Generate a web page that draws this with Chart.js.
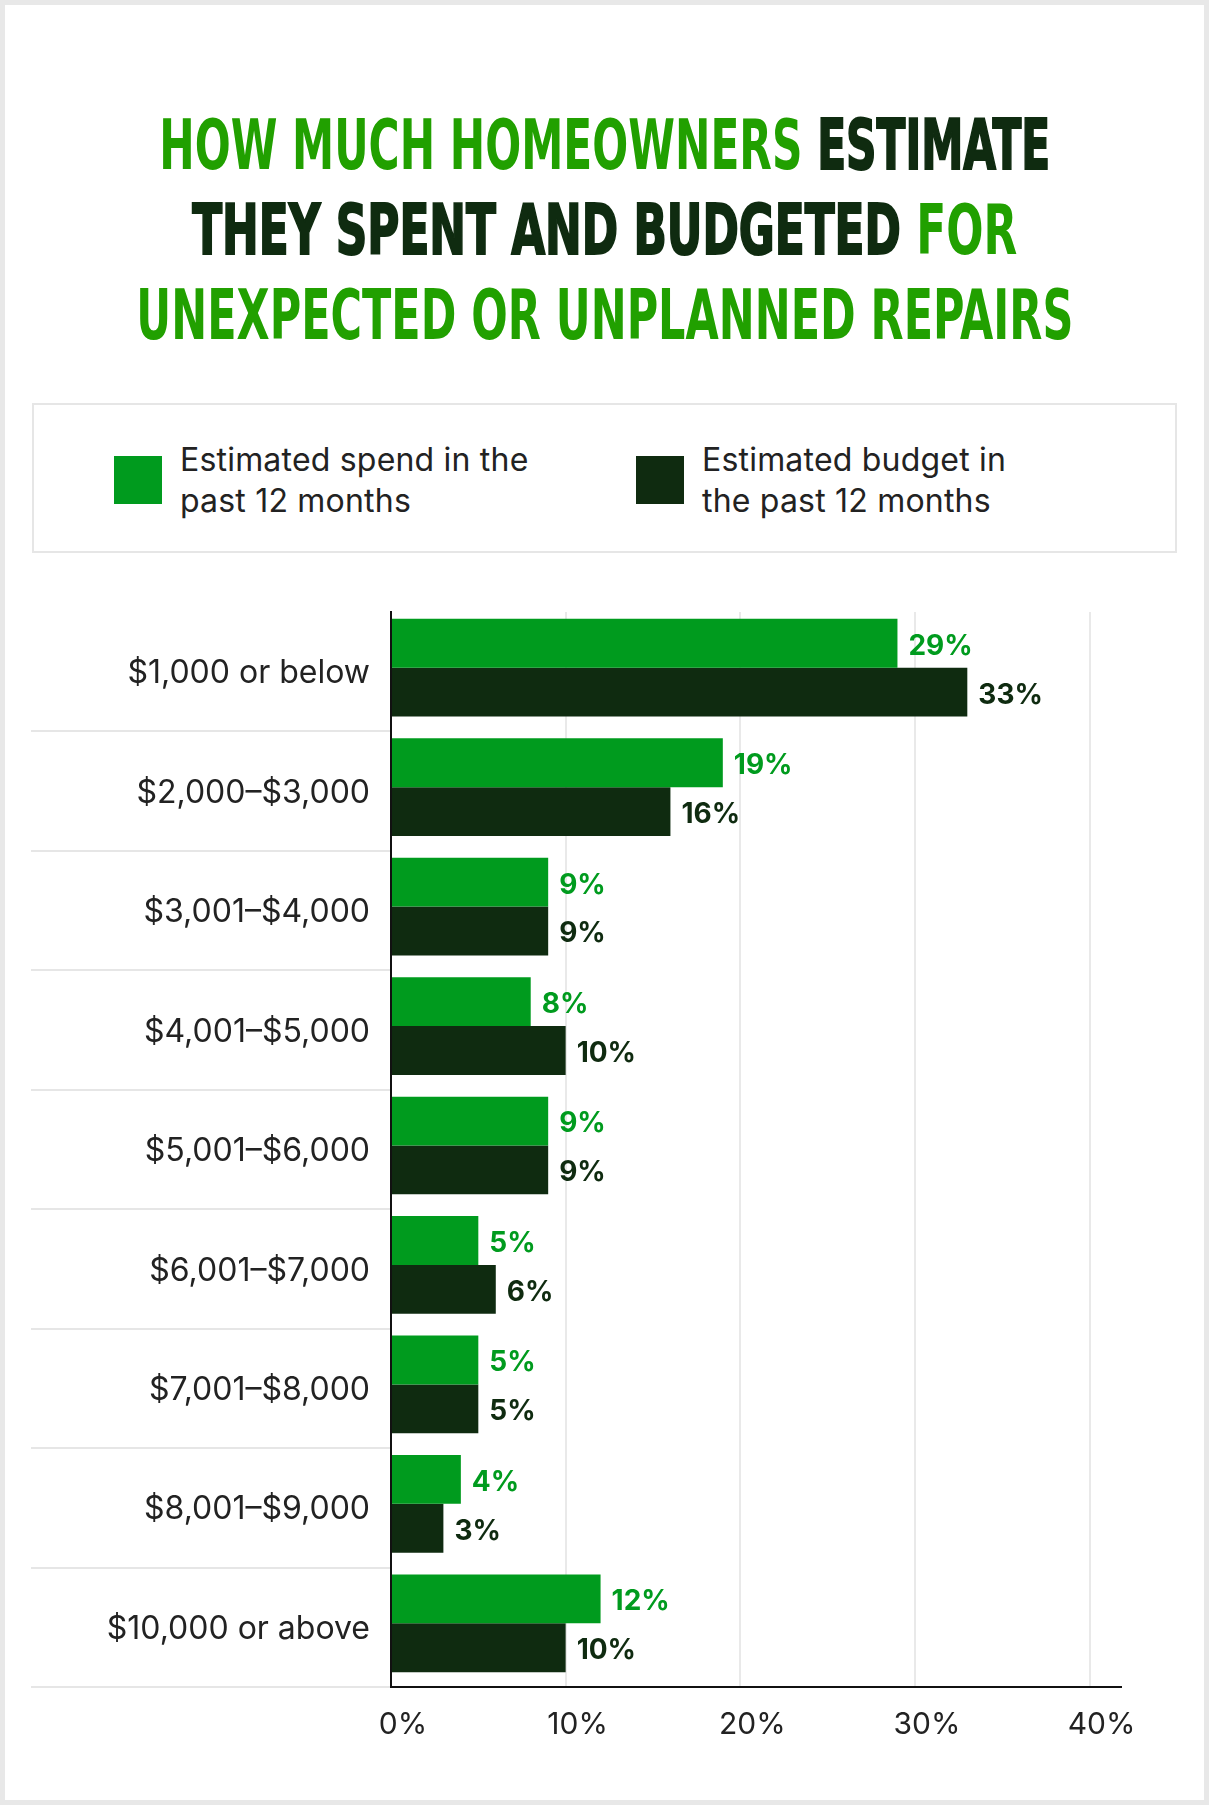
<!DOCTYPE html>
<html>
<head>
<meta charset="utf-8">
<script src="https://cdn.jsdelivr.net/npm/chart.js@4.4.1/dist/chart.umd.min.js"></script>
<style>
  html, body { margin: 0; padding: 0; background: #fff; }
  body { width: 1209px; height: 1805px; position: relative; overflow: hidden; font-family: Inter, 'Noto Sans', sans-serif; }
  .frame { position: absolute; left: 0; top: 0; width: 1209px; height: 1805px; border: 5px solid #e8e8e8; box-sizing: border-box; }
  .title { position: absolute; left: 0; top: 103px; width: 1209px; margin: 0; font-family: 'Liberation Sans Narrow', 'DejaVu Sans Condensed', sans-serif; font-weight: 700; font-size: 70px; line-height: 85px; }
  .title .line { display: flex; justify-content: center; white-space: nowrap; height: 85px; }
  .title .inner { display: inline-block; flex: none; transform-origin: 50% 50%; }
  .g { color: #21a000; }
  .d { color: #0f2b10; -webkit-text-stroke: 2px #0f2b10; }
  .legend { position: absolute; left: 32px; top: 403px; width: 1145px; height: 150px; border: 2px solid #e6e6e6; box-sizing: border-box; }
  .item { position: absolute; top: 2px; height: 146px; display: flex; align-items: center; }
  .swatch { width: 48px; height: 48px; margin-right: 18px; }
  .item-text { font-size: 32px; letter-spacing: 0.2px; line-height: 41px; color: #222; }
  .chart-box { position: absolute; left: 0; top: 590px; width: 1209px; height: 1190px; }
</style>
</head>
<body>
<div class="frame"></div>

<h1 class="title">
  <span class="line"><span class="inner"><span class="g">HOW MUCH HOMEOWNERS</span> <span class="d">ESTIMATE</span></span></span>
  <span class="line"><span class="inner"><span class="d">THEY SPENT AND BUDGETED</span> <span class="g">FOR</span></span></span>
  <span class="line"><span class="inner"><span class="g">UNEXPECTED OR UNPLANNED REPAIRS</span></span></span>
</h1>

<div class="legend" id="legend"></div>

<div class="chart-box"><canvas id="chart"></canvas></div>

<script>
const categories = ['$1,000 or below', '$2,000–$3,000', '$3,001–$4,000', '$4,001–$5,000', '$5,001–$6,000',
    '$6,001–$7,000', '$7,001–$8,000', '$8,001–$9,000', '$10,000 or above'];
const spendValues = [29, 19, 9, 8, 9, 5, 5, 4, 12];
const budgetValues = [33, 16, 9, 10, 9, 6, 5, 3, 10];
const xTicks = [0, 10, 20, 30, 40];
const seriesLabels = [['Estimated spend in the', 'past 12 months'], ['Estimated budget in', 'the past 12 months']];
const seriesColors = ['#009b1e', '#0f2b10'];

// squeeze each title line to the width of the condensed original
const titleWidths = [891, 825, 937];
document.querySelectorAll('.title .inner').forEach((el, i) => {
    const w = el.getBoundingClientRect().width;
    el.style.transform = 'scaleX(' + (titleWidths[i] / w) + ')';
});

// legend
const legendLeft = [80, 602];
const legend = document.getElementById('legend');
seriesLabels.forEach((lines, i) => {
    const item = document.createElement('div');
    item.className = 'item';
    item.style.left = legendLeft[i] + 'px';
    item.innerHTML = '<div class="swatch" style="background:' + seriesColors[i] + '"></div>' +
        '<div class="item-text">' + lines.join('<br>') + '</div>';
    legend.appendChild(item);
});

// value labels at the end of each bar
const barLabels = {
    id: 'barLabels',
    beforeDatasetsDraw(chart) {
        chart.ctx.save();
        chart.ctx.translate(0, -4);
    },
    afterDatasetsDraw(chart) {
        const ctx = chart.ctx;
        ctx.font = '700 28px Inter';
        ctx.textBaseline = 'middle';
        ctx.textAlign = 'left';
        chart.data.datasets.forEach((ds, i) => {
            ctx.fillStyle = ds.backgroundColor;
            chart.getDatasetMeta(i).data.forEach((bar, j) => {
                ctx.fillText(ds.data[j] + '%', bar.x + 11, bar.y + 3);
            });
        });
        ctx.restore();
    }
};

new Chart(document.getElementById('chart'), {
    type: 'bar',
    data: {
        labels: categories,
        datasets: [{
            label: seriesLabels[0].join(' '),
            data: spendValues,
            backgroundColor: seriesColors[0],
            categoryPercentage: 0.818,
            barPercentage: 1
        }, {
            label: seriesLabels[1].join(' '),
            data: budgetValues,
            backgroundColor: seriesColors[1],
            categoryPercentage: 0.818,
            barPercentage: 1
        }]
    },
    options: {
        indexAxis: 'y',
        responsive: true,
        maintainAspectRatio: false,
        animation: false,
        layout: { padding: { left: 30, top: 22, right: 88, bottom: 0 } },
        plugins: {
            legend: { display: false },
            tooltip: { enabled: false }
        },
        scales: {
            x: {
                min: 0,
                max: 41.8,
                afterBuildTicks: scale => { scale.ticks = xTicks.map(v => ({ value: v })); },
                afterFit: scale => { scale.height = 93; },
                grid: { color: '#e9e9e9', lineWidth: 2, drawTicks: false },
                border: { color: '#111', width: 2 },
                ticks: {
                    padding: 20,
                    labelOffset: 12,
                    color: '#222',
                    font: { family: 'Inter', size: 30 },
                    callback: value => value + '%'
                }
            },
            y: {
                afterFit: scale => { scale.width = 361; },
                grid: {
                    drawOnChartArea: false,
                    tickLength: 360,
                    lineWidth: 2,
                    tickColor: c => c.index === 0 ? 'rgba(0,0,0,0)' : '#e6e6e6'
                },
                border: { color: '#111', width: 2 },
                ticks: {
                    padding: -339,
                    labelOffset: 2,
                    color: '#222',
                    font: { family: 'Inter', size: 32 }
                }
            }
        }
    },
    plugins: [barLabels]
});
</script>
</body>
</html>
